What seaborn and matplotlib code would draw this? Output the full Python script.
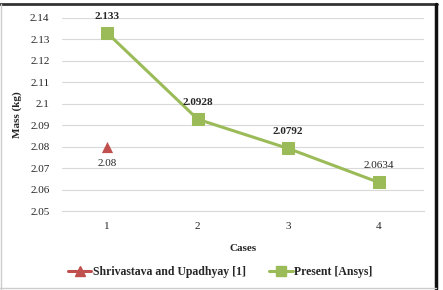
import matplotlib
matplotlib.use("Agg")
import matplotlib.pyplot as plt
from matplotlib.lines import Line2D
import seaborn as sns
import pandas as pd

# data
cases = ["1", "2", "3", "4"]
present_mass = [2.133, 2.0928, 2.0792, 2.0634]
ref_cases = ["1"]
ref_mass = [2.08]
present_labels = ["2.133", "2.0928", "2.0792", "2.0634"]
ref_labels = ["2.08"]
y_ticks = [2.05, 2.06, 2.07, 2.08, 2.09, 2.1, 2.11, 2.12, 2.13, 2.14]

sns.set_style("white")
plt.rcParams["font.family"] = ["Liberation Serif", "DejaVu Serif"]

red = "#C0504D"
green = "#9BBB59"

present_df = pd.DataFrame({"x": range(len(cases)), "mass": present_mass})
ref_df = pd.DataFrame({"x": [cases.index(c) for c in ref_cases], "mass": ref_mass})

fig = plt.figure(figsize=(4.43, 2.90), dpi=100)
ax = fig.add_axes([0.140, 0.272, 0.817, 0.666])

sns.scatterplot(data=ref_df, x="x", y="mass", ax=ax, color=red, marker="^",
                s=65, edgecolor=red, linewidth=0, zorder=3)
sns.lineplot(data=present_df, x="x", y="mass", ax=ax, color=green, linewidth=2.2,
             marker="s", markersize=8, markeredgecolor=green, zorder=3)

# data labels
for i, (v, t) in enumerate(zip(present_mass, present_labels)):
    ax.annotate(t, (i, v), xytext=(0, 9), textcoords="offset points",
                ha="center", va="bottom", fontsize=8,
                fontweight="bold" if i < 3 else "normal")
for c, v, t in zip(ref_cases, ref_mass, ref_labels):
    ax.annotate(t, (cases.index(c), v), xytext=(0, -9), textcoords="offset points",
                ha="center", va="top", fontsize=8)

ax.set_xlim(-0.5, len(cases) - 0.5)
ax.set_ylim(2.05, 2.14)
ax.set_xticks(range(len(cases)))
ax.set_xticklabels(cases, fontsize=8)
ax.set_yticks(y_ticks)
ax.set_yticklabels([f"{t:g}" for t in y_ticks], fontsize=8)
ax.yaxis.grid(True, color="#D9D9D9", linewidth=0.8)
ax.set_axisbelow(True)
for s in ["top", "right", "left"]:
    ax.spines[s].set_visible(False)
ax.spines["bottom"].set_color("#D9D9D9")
ax.tick_params(axis="x", length=0, pad=8)
ax.tick_params(axis="y", length=0, pad=9)
ax.set_xlabel("Cases", fontsize=8, fontweight="bold", labelpad=9)
ax.set_ylabel("Mass (kg)", fontsize=8, fontweight="bold", labelpad=6)

handles = [
    Line2D([], [], color=red, linewidth=2.2, marker="^", markersize=7),
    Line2D([], [], color=green, linewidth=2.2, marker="s", markersize=7),
]
fig.legend(handles, ["Shrivastava and Upadhyay [1]", "Present [Ansys]"],
           loc="center", bbox_to_anchor=(0.497, 0.062), ncol=2, frameon=False,
           prop={"weight": "bold", "size": 8.5}, handlelength=2.0,
           columnspacing=2.0, handletextpad=0.1)

# outer frame
fig.add_artist(Line2D([0.0, 0.986], [0.986, 0.986], color="#333333", linewidth=2))
fig.add_artist(Line2D([0.985, 0.985], [0.005, 0.986], color="#111111", linewidth=2.5))
fig.add_artist(Line2D([0.003, 0.003], [0.005, 0.986], color="#CCCCCC", linewidth=1))
fig.add_artist(Line2D([0.0, 0.985], [0.007, 0.007], color="#CCCCCC", linewidth=1))

fig.savefig("out.png", dpi=100)
